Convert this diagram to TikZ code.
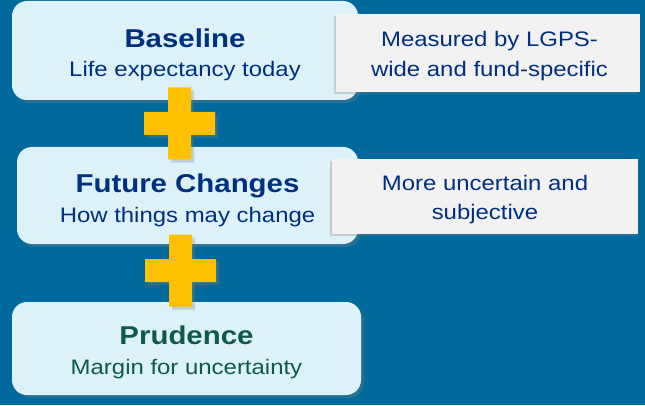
\documentclass[tikz,border=0pt]{standalone}
\usepackage{fontspec}
\setmainfont[FakeStretch=1.14]{Liberation Sans}
\usepackage{xcolor}
\usepackage{tikz}
\usetikzlibrary{calc,shadows}
\definecolor{slideblue}{HTML}{006A9C}
\definecolor{cardfill}{HTML}{DCF1F8}
\definecolor{notefill}{HTML}{F2F2F2}
\definecolor{navytext}{HTML}{002F80}
\definecolor{greentext}{HTML}{0F5A4B}
\definecolor{plusyellow}{HTML}{FFC000}

\begin{document}
\begin{tikzpicture}[x=1pt,y=1pt,
	card/.style={rectangle, rounded corners=15pt, fill=cardfill, inner sep=0pt,
		drop shadow={shadow xshift=3pt, shadow yshift=-3pt, opacity=0.3}},
	cardtext/.style={align=center, text=navytext, inner sep=0pt,
		font=\fontsize{21}{29.5}\selectfont},
	note/.style={rectangle, fill=notefill, inner sep=0pt,
		drop shadow={shadow xshift=-2pt, shadow yshift=-2pt, opacity=0.3}},
	notetext/.style={align=center, text=navytext, inner sep=0pt,
		font=\fontsize{21}{29.3}\selectfont},
	plusmark/.style={fill=plusyellow,
		drop shadow={shadow xshift=3pt, shadow yshift=-3pt, opacity=0.3}}]
	\fill[slideblue] (0,0) rectangle (645,405);
	% the three steps
	\node[card, minimum width=346pt, minimum height=99pt] (base) at (185,354.5) {};
	\node[cardtext] (baseText) at ([yshift=-4.5pt]base.center)
		{{\fontsize{25.8}{29.5}\selectfont\bfseries Baseline}\\Life expectancy today};
	\node[card, minimum width=341pt, minimum height=97pt] (future) at (187.5,209.5) {};
	\node[cardtext] (futureText) at ([yshift=-5pt]future.center)
		{{\fontsize{25.8}{29.5}\selectfont\bfseries Future Changes}\\How things may change};
	\node[card, minimum width=349pt, minimum height=93pt] (prud) at (186.5,56.5) {};
	\node[cardtext, text=greentext] (prudText) at ([yshift=-4pt]prud.center)
		{{\fontsize{25.8}{29.5}\selectfont\bfseries Prudence}\\Margin for uncertainty};
	% side notes
	\node[note, minimum width=304pt, minimum height=78pt] (baseNote) at (488,352) {};
	\node[notetext] (baseNoteText) at ([xshift=1.5pt,yshift=-3pt]baseNote.center)
		{Measured by LGPS-\\wide and fund-specific};
	\node[note, minimum width=306pt, minimum height=75pt] (futureNote) at (485,208.5) {};
	\node[notetext] (futureNoteText) at ([yshift=-3pt]futureNote.center)
		{More uncertain and\\subjective};
	% plus signs
	\coordinate (plusA) at (179.5,281.5);
	\coordinate (plusB) at (180.5,134.5);
	\fill[plusmark] ([shift={(-11.5,-36)}]plusA) rectangle ++(23,72)
		([shift={(-35.5,-11.5)}]plusA) rectangle ++(71,23);
	\fill[plusmark] ([shift={(-11.5,-36)}]plusB) rectangle ++(23,72)
		([shift={(-35.5,-11.5)}]plusB) rectangle ++(71,23);
\end{tikzpicture}
\end{document}
